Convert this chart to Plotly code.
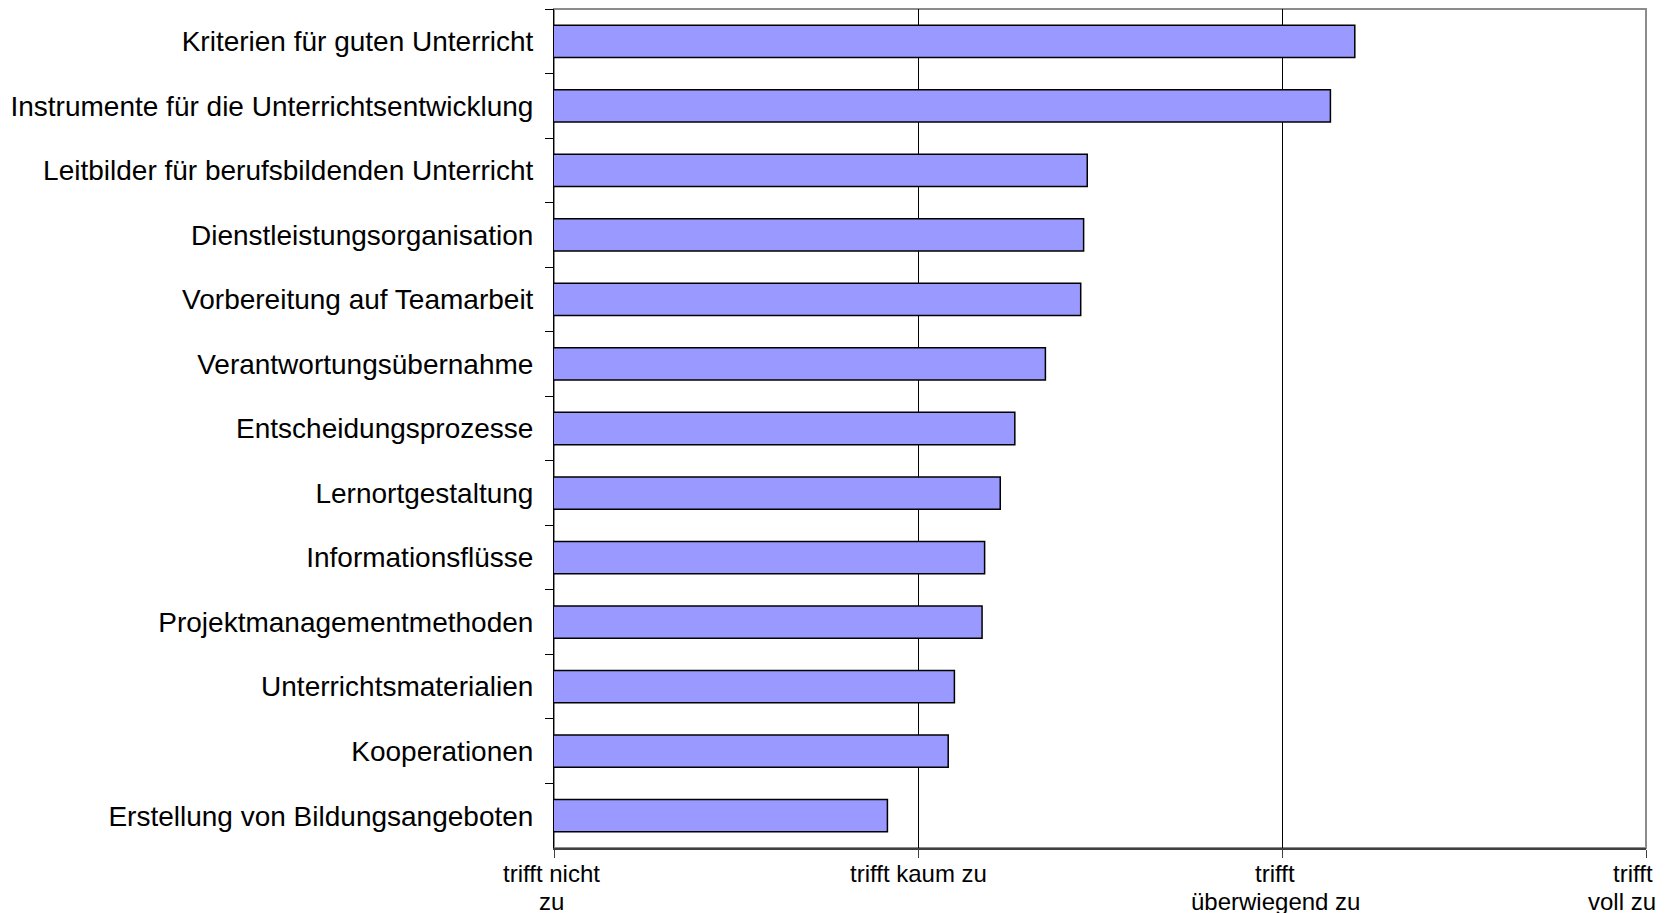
import plotly.graph_objects as go

categories = [
    "Kriterien für guten Unterricht",
    "Instrumente für die Unterrichtsentwicklung",
    "Leitbilder für berufsbildenden Unterricht",
    "Dienstleistungsorganisation",
    "Vorbereitung auf Teamarbeit",
    "Verantwortungsübernahme",
    "Entscheidungsprozesse",
    "Lernortgestaltung",
    "Informationsflüsse",
    "Projektmanagementmethoden",
    "Unterrichtsmaterialien",
    "Kooperationen",
    "Erstellung von Bildungsangeboten",
]
values = [3.20, 3.133, 2.465, 2.455, 2.447, 2.35, 2.266, 2.226, 2.183, 2.176, 2.10, 2.083, 1.916]

tick_vals = [1, 2, 3, 4]
tick_line1 = ["trifft nicht", "trifft kaum zu", "trifft", "trifft"]
tick_line2 = ["zu", "", "überwiegend zu", "voll zu"]
shift_line1 = [-3, 0, -7, -13]
shift_line2 = [-3, 0, -7, -24]

W, H = 1668, 913
L, R, T, B = 554, 22, 8.5, 65
plot_h = H - T - B
bottom_px = H - B


def paper_y(px):
    return (bottom_px - px) / plot_h


fig = go.Figure()
fig.add_trace(go.Bar(
    y=categories, x=values, orientation="h", base=0,
    marker=dict(color="#9999FF", line=dict(color="black", width=1.5)),
))

fig.update_layout(
    width=W, height=H,
    margin=dict(l=L, r=R, t=T, b=B, pad=0),
    paper_bgcolor="white", plot_bgcolor="white",
    font=dict(family="Liberation Sans, Arial, sans-serif", color="black"),
    bargap=0.5, showlegend=False,
    shapes=[dict(type="rect", xref="paper", yref="paper", x0=0, x1=1, y0=0, y1=1,
                 line=dict(color="#8c8c8c", width=2), layer="below")],
)
fig.update_xaxes(
    range=[1, 4], tickvals=tick_vals, showticklabels=False,
    showgrid=True, gridcolor="black", gridwidth=1, zeroline=False,
    showline=True, linecolor="#404040", linewidth=2,
    ticks="outside", ticklen=8, tickcolor="#404040", tickwidth=1,
)
fig.update_yaxes(
    categoryorder="array", categoryarray=categories, autorange="reversed",
    tickson="boundaries", ticks="outside", ticklen=8, tickcolor="black",
    showline=True, linecolor="black", linewidth=1, showgrid=False,
    tickfont=dict(size=28, color="black"), ticklabelstandoff=14,
)

for v, t1, t2, s1, s2 in zip(tick_vals, tick_line1, tick_line2, shift_line1, shift_line2):
    fig.add_annotation(
        x=v, xref="x", y=paper_y(874), yref="paper",
        text=t1, showarrow=False, yanchor="middle", xanchor="center", xshift=s1,
        font=dict(size=24, color="black"),
    )
    if t2:
        fig.add_annotation(
            x=v, xref="x", y=paper_y(902), yref="paper",
            text=t2, showarrow=False, yanchor="middle", xanchor="center", xshift=s2,
            font=dict(size=24, color="black"),
        )

fig.write_html("out.html")
